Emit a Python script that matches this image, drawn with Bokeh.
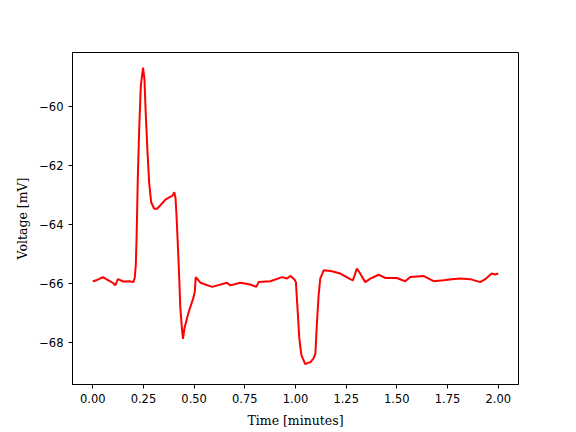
from bokeh.plotting import figure
from bokeh.models import Range1d, FixedTicker, CustomJSTickFormatter
from bokeh.embed import file_html
from bokeh.resources import INLINE

# Membrane potential trace
time_min = [0.000, 0.020, 0.050, 0.075, 0.100, 0.111, 0.124, 0.150, 0.180, 0.200,
            0.207, 0.212, 0.216, 0.222, 0.229, 0.237, 0.248, 0.255, 0.261, 0.270,
            0.278, 0.288, 0.303, 0.317, 0.330, 0.360, 0.393, 0.402, 0.408, 0.413,
            0.419, 0.426, 0.432, 0.440, 0.445, 0.452, 0.473, 0.495, 0.503, 0.508,
            0.531, 0.589, 0.662, 0.679, 0.728, 0.777, 0.807, 0.818, 0.876, 0.934,
            0.958, 0.974, 0.994, 1.002, 1.012, 1.019, 1.029, 1.048, 1.065, 1.073,
            1.089, 1.098, 1.106, 1.114, 1.122, 1.139, 1.180, 1.221, 1.270, 1.283,
            1.303, 1.319, 1.344, 1.369, 1.410, 1.443, 1.500, 1.541, 1.566, 1.631,
            1.681, 1.730, 1.771, 1.812, 1.862, 1.911, 1.940, 1.968, 1.985, 2.000]
voltage_mv = [-65.93, -65.88, -65.78, -65.88, -65.98, -66.06, -65.85, -65.93, -65.92, -65.95,
              -65.80, -65.40, -64.50, -62.47, -60.78, -59.31, -58.70, -59.09, -60.21, -61.56,
              -62.58, -63.25, -63.47, -63.47, -63.38, -63.15, -63.03, -62.91, -63.10, -63.69,
              -64.59, -65.72, -66.84, -67.52, -67.87, -67.52, -66.96, -66.51, -66.28, -65.78,
              -65.97, -66.11, -65.97, -66.06, -65.97, -66.03, -66.11, -65.95, -65.92, -65.78,
              -65.83, -65.74, -65.85, -65.95, -67.07, -67.86, -68.42, -68.72, -68.67, -68.66,
              -68.53, -68.37, -67.30, -66.40, -65.83, -65.55, -65.58, -65.66, -65.85, -65.89,
              -65.49, -65.66, -65.95, -65.83, -65.70, -65.81, -65.81, -65.92, -65.78, -65.74,
              -65.92, -65.89, -65.85, -65.83, -65.85, -65.95, -65.83, -65.66, -65.69, -65.66]

x_ticks = [0.0, 0.25, 0.5, 0.75, 1.0, 1.25, 1.5, 1.75, 2.0]
y_ticks = [-68, -66, -64, -62, -60]

p = figure(width=568, height=432, output_backend="svg", toolbar_location=None,
           x_range=Range1d(-0.1, 2.1), y_range=Range1d(-69.41, -58.19))
p.min_border_left = 72
p.min_border_right = 50
p.min_border_top = 52
p.min_border_bottom = 48
p.background_fill_color = "white"
p.border_fill_color = "white"
p.outline_line_color = "black"
p.outline_line_width = 1
p.grid.visible = False

p.line(time_min, voltage_mv, color="red", line_width=2.0)

p.xaxis.ticker = FixedTicker(ticks=x_ticks)
p.yaxis.ticker = FixedTicker(ticks=y_ticks)
p.xaxis.formatter = CustomJSTickFormatter(code="return tick.toFixed(2);")
p.yaxis.formatter = CustomJSTickFormatter(
    code="return (tick < 0 ? '\u2212' : '') + Math.abs(tick).toFixed(0);")

for ax in (p.xaxis[0], p.yaxis[0]):
    ax.axis_line_color = "black"
    ax.axis_line_width = 1
    ax.major_tick_line_color = "black"
    ax.major_tick_line_width = 1
    ax.major_tick_out = 4
    ax.major_tick_in = 0
    ax.minor_tick_line_color = None
    ax.major_label_text_font = "DejaVu Sans"
    ax.major_label_text_font_size = "11.5px"
    ax.major_label_text_color = "black"
    ax.major_label_standoff = 5
    ax.axis_label_text_font = "DejaVu Serif"
    ax.axis_label_text_font_style = "normal"
    ax.axis_label_text_font_size = "12.5px"
    ax.axis_label_text_color = "black"
    ax.axis_label_standoff = 6

p.xaxis[0].axis_label_standoff = 7
p.xaxis.axis_label = "Time [minutes]"
p.yaxis.axis_label = "Voltage [mV]"

open("out.html", "w").write(file_html(p, INLINE))
